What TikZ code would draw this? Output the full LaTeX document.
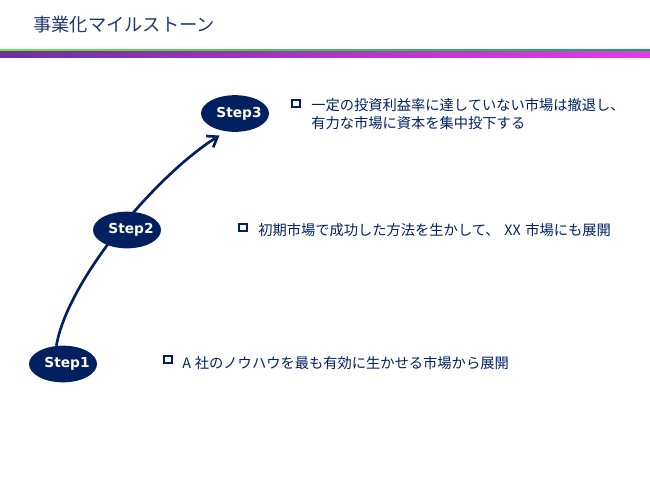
\documentclass[tikz,border=0pt]{standalone}
\usepackage{fontspec}
\usepackage{xcolor}
\usepackage{tikz}
\usetikzlibrary{arrows.meta,shapes.geometric,backgrounds}
\newfontfamily\jpfont{Noto Sans CJK JP}
\newfontfamily\stepfont{DejaVu Sans}
\definecolor{msnavy}{RGB}{0,32,96}
\definecolor{titleblue}{RGB}{31,56,110}
\definecolor{hdgreenL}{RGB}{102,240,51}
\definecolor{hdgreenR}{RGB}{0,170,90}
\definecolor{hdpurpleL}{RGB}{112,48,160}
\definecolor{hdpurpleR}{RGB}{230,60,230}

\begin{document}
\begin{tikzpicture}[x=0.75pt,y=-0.75pt,>={Straight Barb[length=7pt,width=10pt]},
  stepnode/.style={ellipse,fill=msnavy,minimum width=51pt,minimum height=27.5pt,inner sep=0pt,
    text=white,font=\stepfont\bfseries\fontsize{10.3pt}{12pt}\selectfont},
  bullet/.style={draw=msnavy,line width=1.4pt,minimum size=5.8pt,inner sep=0pt},
  note/.style={anchor=west,inner sep=0pt,text=msnavy,align=left,
    font=\jpfont\fontsize{10.7pt}{13.5pt}\selectfont}]
  \useasboundingbox (0,0) rectangle (650,487);
  % header
  \node[anchor=west,inner sep=0pt,text=titleblue,font=\jpfont\fontsize{13.7pt}{16pt}\selectfont] (title) at (33,25) {事業化マイルストーン};
  \shade[left color=hdgreenL,right color=hdgreenR] (0,49.3) rectangle (650,51.7);
  \shade[left color=hdpurpleL,right color=hdpurpleR] (0,51.7) rectangle (650,57.3);
  % milestones
  \node[stepnode] (s1) at (63,364) {\makebox[0pt]{\hskip6pt Step1}};
  \node[stepnode] (s2) at (127,230) {\makebox[0pt]{\hskip6pt Step2}};
  \node[stepnode] (s3) at (235,113.5) {\makebox[0pt]{\hskip6pt Step3}};
  \coordinate (s3tip) at (219.5,135.5);
  \begin{scope}[on background layer]
    \draw[->,msnavy,line width=2pt] (s1.110) .. controls +(11,-65) and +(-64,40) .. (s3tip);
  \end{scope}
  % notes
  \node[bullet] (b3) at (296,103.5) {};
  \node[note] (t3) at (311,114) {一定の投資利益率に達していない市場は撤退し、\\有力な市場に資本を集中投下する};
  \node[bullet] (b2) at (243,227.5) {};
  \node[note] (t2) at (258,230) {初期市場で成功した方法を生かして、\hspace{3.5pt}XX\hspace{3.5pt}市場にも展開};
  \node[bullet] (b1) at (168,359.5) {};
  \node[note] (t1) at (182,363) {A\hspace{3pt}社のノウハウを最も有効に生かせる市場から展開};
\end{tikzpicture}
\end{document}
